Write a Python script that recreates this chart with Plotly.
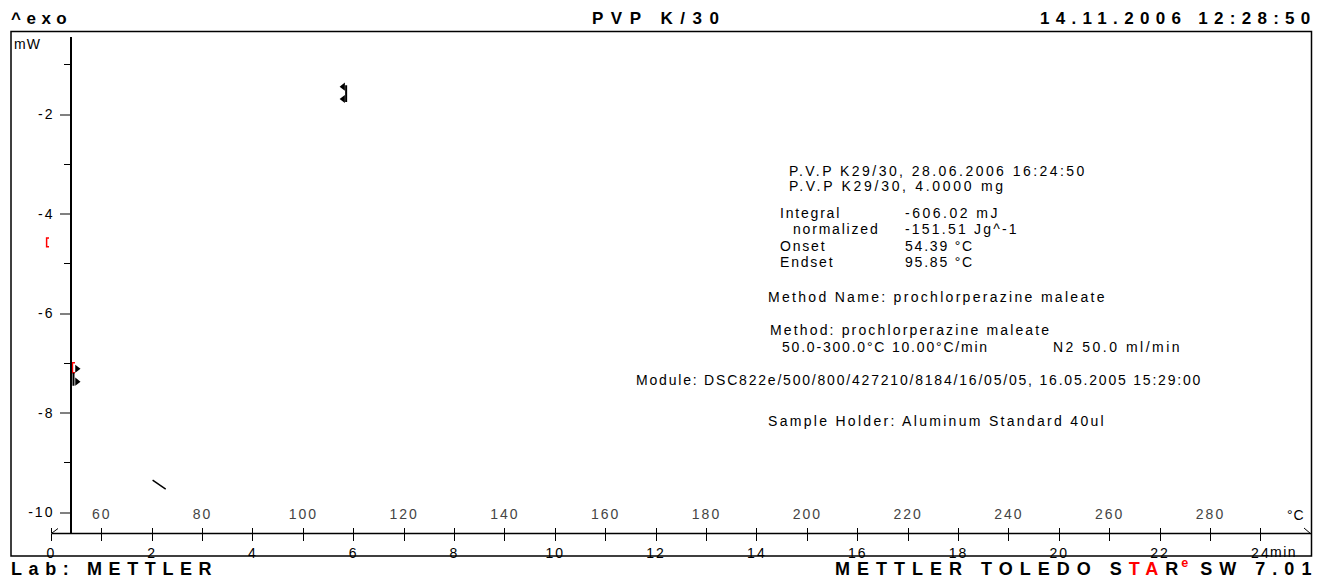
import plotly.graph_objects as go

W, H = 1323, 579
FONT = "Liberation Sans, Arial, sans-serif"

# ---------------- data ----------------
minute_ticks = list(range(0, 25))                 # tick every minute
minute_labels = [str(m) if m % 2 == 0 else "" for m in minute_ticks]
temp_ticks = list(range(50, 300, 10))             # same positions in deg C (10 K/min)
temp_labels = [str(t) if (t - 60) % 20 == 0 and t >= 60 else "" for t in temp_ticks]
y_major = [-10, -8, -6, -4, -2]
y_minor = [-9, -7, -5, -3, -1]

# event markers near the peak (time min, heat flow mW)
peak_bar_t = [5.85, 5.85]
peak_bar_y = [-1.41, -1.75]
peak_tri_t = [5.79, 5.79]
peak_tri_y = [-1.44, -1.69]

# markers at the start of the run
start_red_t = [0.47, 0.42, 0.42, 0.47]
start_red_y = [-6.99, -6.99, -7.19, -7.19]
start_bar_t = [0.44, 0.44]
start_bar_y = [-7.19, -7.45]
start_tri_t = [0.51, 0.51]
start_tri_y = [-7.11, -7.37]

# offset limit marker (left of the time origin)
offset_red_t = [-0.045, -0.093, -0.093, -0.045]
offset_red_y = [-4.48, -4.48, -4.66, -4.66]

# short tail segment
tail_t = [2.01, 2.27]
tail_y = [-9.35, -9.53]


def sp(text, ls):
    return f'<span style="letter-spacing:{ls}px">{text}</span>'


def px(x):
    return x / W


def py(y):
    return 1 - y / H


fig = go.Figure()

fig.add_trace(go.Scatter(x=peak_bar_t, y=peak_bar_y, mode="lines",
                         line=dict(color="black", width=2), showlegend=False))
fig.add_trace(go.Scatter(x=peak_tri_t, y=peak_tri_y, mode="markers",
                         marker=dict(symbol="triangle-left", size=7, color="black"),
                         showlegend=False))
fig.add_trace(go.Scatter(x=start_red_t, y=start_red_y, mode="lines",
                         line=dict(color="red", width=1.5), showlegend=False))
fig.add_trace(go.Scatter(x=start_bar_t, y=start_bar_y, mode="lines",
                         line=dict(color="black", width=2), showlegend=False))
fig.add_trace(go.Scatter(x=start_tri_t, y=start_tri_y, mode="markers",
                         marker=dict(symbol="triangle-right", size=7, color="black"),
                         showlegend=False))
fig.add_trace(go.Scatter(x=offset_red_t, y=offset_red_y, mode="lines",
                         line=dict(color="red", width=1.5), showlegend=False))
fig.add_trace(go.Scatter(x=tail_t, y=tail_y, mode="lines",
                         line=dict(color="black", width=1.5), showlegend=False))
# invisible traces so the secondary axes are drawn
fig.add_trace(go.Scatter(x=[50, 300], y=[-10.42, -10.42], xaxis="x2", yaxis="y", mode="lines",
                         line=dict(width=0), hoverinfo="skip", showlegend=False))
fig.add_trace(go.Scatter(x=[0, 25], y=[-10.42, -10.42], xaxis="x", yaxis="y2", mode="lines",
                         line=dict(width=0), hoverinfo="skip", showlegend=False))
fig.add_trace(go.Scatter(x=[0, 25], y=[-10.42, -10.42], xaxis="x", yaxis="y3", mode="lines",
                         line=dict(width=0), hoverinfo="skip", showlegend=False))

px_per_min = 50.4
t0_px = 51.3
t_lo = -0.14
x0_px = t0_px + t_lo * px_per_min
x1_px = t0_px + 25 * px_per_min
y_top_px, y_bot_px = 37, 533.4


def y_of(p):
    return -2 + (114.5 - p) / 49.75


yr = [y_of(y_bot_px), y_of(y_top_px)]
ydom = [py(y_bot_px), py(y_top_px)]

fig.update_layout(
    width=W, height=H, margin=dict(l=0, r=0, t=0, b=0, autoexpand=False),
    paper_bgcolor="white", plot_bgcolor="white",
    font=dict(family=FONT, size=14, color="black"),
    xaxis=dict(domain=[px(x0_px), px(x1_px)], range=[t_lo, 25], anchor="y",
               tickmode="array", tickvals=minute_ticks,
               ticktext=[sp(t, 2) for t in minute_labels],
               ticks="outside", ticklen=7, tickwidth=1, tickcolor="black",
               showline=False, showgrid=False, zeroline=False, tickfont=dict(size=14),
               automargin=False),
    xaxis2=dict(domain=[px(x0_px), px(x1_px)],
                range=[50 + 10 * t_lo, 300], anchor="y",
                overlaying="x", side="bottom",
                tickmode="array", tickvals=temp_ticks,
                ticktext=[sp(t, 2) for t in temp_labels],
                ticks="inside", ticklen=5, tickwidth=1, tickcolor="black",
                ticklabelposition="inside", ticklabelstandoff=6,
                showline=False, showgrid=False, zeroline=False, tickfont=dict(size=14),
                automargin=False),
    # main y axis: scale only
    yaxis=dict(domain=ydom, range=yr, anchor="x",
               showticklabels=False, ticks="", showline=False,
               showgrid=False, zeroline=False, automargin=False),
    # minor ticks
    yaxis2=dict(domain=ydom, range=yr, overlaying="y",
                anchor="free", position=px(71), side="left",
                tickmode="array", tickvals=y_minor, ticktext=[""] * len(y_minor),
                ticks="outside", ticklen=7, tickwidth=1, tickcolor="black",
                showline=False, showgrid=False, zeroline=False, automargin=False),
    # major ticks, labels and the axis line
    yaxis3=dict(domain=ydom, range=yr, overlaying="y",
                anchor="free", position=px(71), side="left",
                tickmode="array", tickvals=y_major,
                ticktext=[sp(str(v), 2) for v in y_major],
                ticks="outside", ticklen=10, tickwidth=2, tickcolor="#808080",
                showline=True, linecolor="black", linewidth=1.5,
                showgrid=False, zeroline=False, tickfont=dict(size=14),
                ticklabelstandoff=3, automargin=False),
)

shapes = [
    dict(type="rect", xref="paper", yref="paper", x0=px(11), x1=px(1311.5),
         y0=py(556), y1=py(31.5), line=dict(color="black", width=1.5), layer="above"),
    # time axis line
    dict(type="line", xref="x", yref="paper", x0=0, x1=25, y0=py(y_bot_px), y1=py(y_bot_px),
         line=dict(color="black", width=1.5)),
    dict(type="line", xref="paper", yref="paper", x0=px(52), y0=py(533), x1=px(58),
         y1=py(528.5), line=dict(color="black", width=1)),
    dict(type="line", xref="paper", yref="paper", x0=px(1304), y0=py(528), x1=px(1311),
         y1=py(534), line=dict(color="black", width=1)),
]
fig.update_layout(shapes=shapes)

ann = []


def add(text, x, y, xanchor="left", size=14, bold=False, ls=2.3, color="black",
        yanchor="middle"):
    t = sp(text, ls)
    if bold:
        t = "<b>" + t + "</b>"
    ann.append(dict(text=t, x=px(x), y=py(y), xref="paper", yref="paper",
                    xanchor=xanchor, yanchor=yanchor, showarrow=False,
                    font=dict(family=FONT, size=size, color=color), borderpad=0,
                    borderwidth=0))


# header / footer
add("^exo", 11, 18.5, size=17, bold=True, ls=5.5)
add("PVP K/30", 659, 18.5, xanchor="center", size=17, bold=True, ls=7.5)
add("14.11.2006 12:28:50", 1317, 18.5, xanchor="right", size=17, bold=True, ls=6.3)
add("Lab: METTLER", 11, 579, size=18, bold=True, ls=6.6, yanchor="bottom")
ann.append(dict(
    text='<b><span style="letter-spacing:7px">METTLER TOLEDO S</span>'
         '<span style="letter-spacing:7px;fill:red">TA</span>'
         '<span style="letter-spacing:3px">R</span>'
         '<span style="fill:red"><sup>e</sup></span>'
         '<span style="letter-spacing:7px"> SW 7.01</span></b>',
    x=px(1318), y=py(579), xref="paper", yref="paper", xanchor="right",
    yanchor="bottom", showarrow=False, font=dict(family=FONT, size=18, color="black"),
    borderpad=0, borderwidth=0))

# axis captions
add("mW", 14, 44, size=14, ls=1)
add("min", 1270, 552, size=14, ls=1.5)
add("°C", 1287, 515, size=14, ls=1)

# info block
add("P.V.P K29/30, 28.06.2006 16:24:50", 789, 171, ls=2.45)
add("P.V.P K29/30, 4.0000 mg", 789, 186, ls=2.7)
add("Integral", 780, 213, ls=1.8)
add("-606.02 mJ", 905, 213, ls=2.5)
add("normalized", 793, 229, ls=1.8)
add("-151.51 Jg^-1", 905, 229, ls=2.2)
add("Onset", 780, 246, ls=1.8)
add("54.39 °C", 905, 246, ls=1.8)
add("Endset", 780, 262, ls=1.8)
add("95.85 °C", 905, 262, ls=1.8)
add("Method Name: prochlorperazine maleate", 768, 297, ls=2.3)
add("Method: prochlorperazine maleate", 770, 330, ls=2.15)
add("50.0-300.0°C 10.00°C/min", 782, 347, ls=1.8)
add("N2 50.0 ml/min", 1053, 347, ls=2.5)
add("Module: DSC822e/500/800/427210/8184/16/05/05, 16.05.2005 15:29:00", 636, 380, ls=1.8)
add("Sample Holder: Aluminum Standard 40ul", 768, 421, ls=2.3)

fig.update_layout(annotations=ann)

fig.write_html("out.html")
